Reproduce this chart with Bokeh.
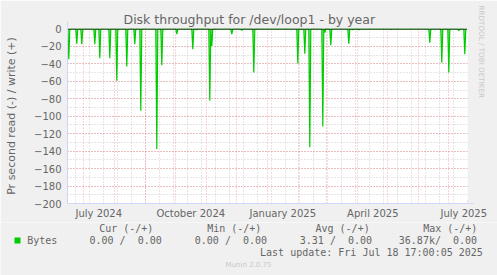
import pandas as pd
from bokeh.plotting import figure
from bokeh.layouts import column
from bokeh.models import Range1d, FixedTicker, DatetimeTickFormatter, Title, Arrow, NormalHead
from bokeh.core.properties import value
from bokeh.embed import file_html
from bokeh.resources import INLINE

# ---------------- data ----------------
spike_dates = ["2024-06-16", "2024-06-24", "2024-06-29", "2024-07-12", "2024-07-17",
               "2024-07-27", "2024-08-03", "2024-08-13", "2024-08-21", "2024-08-27",
               "2024-09-12", "2024-09-17", "2024-10-02", "2024-10-18", "2024-10-22",
               "2024-11-04", "2024-11-06", "2024-11-26", "2024-12-06", "2024-12-18",
               "2025-01-31", "2025-02-07", "2025-02-12", "2025-02-25", "2025-02-27",
               "2025-03-05", "2025-03-23", "2025-03-27", "2025-04-02", "2025-05-04",
               "2025-06-12", "2025-06-24", "2025-07-01", "2025-07-11", "2025-07-17"]
read_rate = [34.7, 16.8, 17.5, 17.5, 33.5,
             33.5, 59.4, 43.0, 17.5, 93.7,
             137.5, 41.5, 6.0, 23.2, 1.0,
             82.3, 19.4, 6.0, 1.5, 49.9,
             39.6, 28.2, 135.6, 111.6, 4.0,
             18.7, 16.8, 1.0, 1.0, 0.5,
             15.6, 38.5, 49.9, 2.0, 29.0]
series_start = "2024-06-14"
series_end = "2025-07-19"
x_start = pd.Timestamp("2024-06-14 17:00")
x_end = pd.Timestamp("2025-07-19 17:00")

x_label_dates = ["2024-07-16", "2024-10-16", "2025-01-16", "2025-04-16", "2025-07-16"]
month_starts = pd.date_range("2024-07-01", "2025-07-01", freq="MS")
minor_dates = pd.date_range("2024-06-23", "2025-07-19", freq="14D")
y_major = list(range(-200, 1, 20))
y_minor = list(range(-200, 1, 10))

title_text = "Disk throughput for /dev/loop1 - by year"
y_label = "Pr second read (-) / write (+)"
legend_name = "Bytes"
col_headers = ["Cur (-/+)", "Min (-/+)", "Avg (-/+)", "Max (-/+)"]
NB = "\u00a0"  # non-collapsing space for the double blanks of the legend
col_values = ["0.00 /" + NB + " 0.00", "0.00 /" + NB + " 0.00",
              "3.31 /" + NB + " 0.00", "36.87k/" + NB + " 0.00"]
last_update = "Last update: Fri Jul 18 17:00:05 2025"
munin_ver = "Munin 2.0.75"
watermark = "RRDTOOL / TOBI OETIKER"

# ---------------- build series ----------------
days = pd.date_range(series_start, series_end, freq="D")
vals = pd.Series(0.0, index=days)
for d, v in zip(spike_dates, read_rate):
    vals[pd.Timestamp(d)] = -v
zeros = [0.0] * len(days)

def ms(t):
    return pd.Timestamp(t).value / 1e6

W = 497
H_MAIN = 222
H_LEG = 275 - H_MAIN
FONT = "DejaVu Sans"
MONO = "DejaVu Sans Mono"
TXT = "#666666"
AXC = "#CFD6F8"
BG = "#F0F0F0"

p = figure(width=W, height=H_MAIN, x_axis_type="datetime",
           x_range=Range1d(ms(x_start), ms(x_end)), y_range=Range1d(-200, 0.6),
           output_backend="svg", toolbar_location=None,
           min_border_left=67, min_border_right=30, min_border_top=28, min_border_bottom=19)
p.frame_align = False
p.background_fill_color = "#FFFFFF"
p.border_fill_color = BG
p.outline_line_color = None

# title
p.title.text = title_text
p.title.align = "left"
p.title.offset = 56
p.title.text_font = FONT
p.title.text_font_size = "12.5px"
p.title.text_font_style = "normal"
p.title.text_color = TXT
p.title.standoff = 3

# watermark on the right
p.add_layout(Title(text=watermark, align="left", offset=-23, text_font=FONT,
                   text_font_size="7.2px", text_font_style="normal",
                   text_color="#C8C8C8", standoff=18), "right")

# grids
p.xgrid.ticker = FixedTicker(ticks=[ms(t) for t in month_starts],
                             minor_ticks=[ms(t) for t in minor_dates])
p.ygrid.ticker = FixedTicker(ticks=y_major, minor_ticks=y_minor)
for g in (p.xgrid, p.ygrid):
    g.grid_line_color = "#FF0000"
    g.grid_line_alpha = 0.35
    g.grid_line_dash = "1 2"
    g.minor_grid_line_color = "#909090"
    g.minor_grid_line_alpha = 0.45
    g.minor_grid_line_dash = "1 2"

# axes
xa = p.xaxis[0]
xa.ticker = FixedTicker(ticks=[ms(t) for t in x_label_dates])
fmt = "%B %Y"
xa.formatter = DatetimeTickFormatter(months=fmt, days=fmt, years=fmt, hours=fmt,
                                     minutes=fmt, seconds=fmt, milliseconds=fmt,
                                     microseconds=fmt, minsec=fmt, hourmin=fmt)
ya = p.yaxis[0]
ya.ticker = FixedTicker(ticks=y_major, minor_ticks=y_minor)
for ax in (xa, ya):
    ax.axis_line_color = AXC
    ax.major_tick_line_color = None
    ax.minor_tick_line_color = None
    ax.major_tick_out = 0
    ax.major_tick_in = 0
    ax.minor_tick_out = 0
    ax.minor_tick_in = 0
    ax.major_label_text_font = FONT
    ax.major_label_text_font_size = "10px"
    ax.major_label_text_color = TXT
xa.major_label_standoff = 4
ya.major_label_standoff = 6
ya.axis_label = y_label
ya.axis_label_text_font = FONT
ya.axis_label_text_font_size = "11px"
ya.axis_label_text_font_style = "normal"
ya.axis_label_text_color = TXT
ya.axis_label_standoff = 13

# data
p.varea(x=days, y1=zeros, y2=vals.values, fill_color="#00CC00", fill_alpha=0.45)
p.line(x=days, y=vals.values, line_color="#00CC00", line_width=1.2)
p.line(x=days, y=zeros, line_color="#000000", line_width=1)

# axis arrows (canvas pixels, y from top)
for (xs, ys, xe, ye) in [(467, 203, 473, 203), (67, 28, 67, 21)]:
    p.add_layout(Arrow(end=NormalHead(size=6, fill_color=AXC, line_color=AXC),
                       x_start=xs, y_start=ys, x_end=xe, y_end=ye,
                       start_units="canvas", end_units="canvas", line_color=AXC))

# ---------------- legend strip ----------------
lf = figure(width=W, height=H_LEG, x_range=Range1d(0, W), y_range=Range1d(H_LEG, 0),
            output_backend="svg", toolbar_location=None,
            x_axis_location=None, y_axis_location=None,
            min_border_left=0, min_border_right=0, min_border_top=0, min_border_bottom=0)
lf.frame_align = False
lf.grid.visible = False
lf.outline_line_color = None
lf.background_fill_color = BG
lf.border_fill_color = BG

def ytop(py):
    return py - H_MAIN

hx = [98.7, 206.7, 315, 422.7]
lf.text(x=hx, y=[ytop(227.5)] * 4, text=col_headers, text_font=value(MONO),
        text_font_size="10px", text_color=TXT, text_baseline="middle")
lf.quad(left=[14], right=[20], top=[ytop(237)], bottom=[ytop(243)],
        fill_color="#00CC00", line_color=None)
vx = [26.7, 89, 194.3, 299.3, 398.3]
lf.text(x=vx, y=[ytop(240)] * 5, text=[legend_name] + col_values, text_font=value(MONO),
        text_font_size="10px", text_color=TXT, text_baseline="middle")
lf.text(x=[482.3], y=[ytop(252)], text=[last_update], text_font=value(MONO),
        text_font_size="10px", text_color=TXT, text_baseline="middle", text_align="right")
lf.text(x=[248], y=[ytop(264)], text=[munin_ver], text_font=value(FONT),
        text_font_size="7px", text_color="#C8C8C8", text_baseline="middle", text_align="center")

layout = column(p, lf, spacing=0)
open("out.html", "w").write(file_html(layout, INLINE))
